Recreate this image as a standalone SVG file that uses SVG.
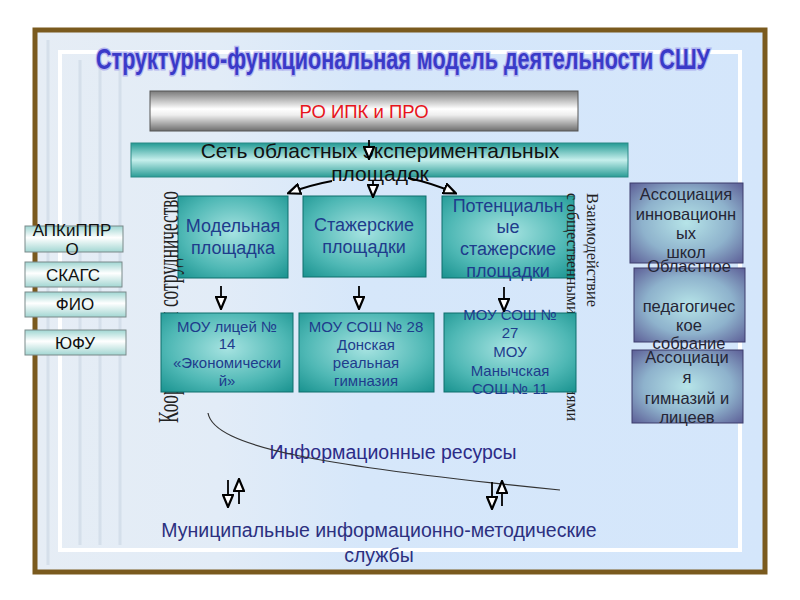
<svg xmlns="http://www.w3.org/2000/svg" width="800" height="600" viewBox="0 0 800 600">
<defs>
<linearGradient id="bg" x1="0" y1="0" x2="1" y2="0">
<stop offset="0" stop-color="#e6edf5"/>
<stop offset="0.25" stop-color="#e2ecf7"/>
<stop offset="0.45" stop-color="#d6e7fa"/>
<stop offset="1" stop-color="#d4e6fb"/>
</linearGradient>
<linearGradient id="metal" x1="0" y1="0" x2="0" y2="1">
<stop offset="0" stop-color="#7a7a7a"/>
<stop offset="0.45" stop-color="#ffffff"/>
<stop offset="0.6" stop-color="#eeeeee"/>
<stop offset="1" stop-color="#6e6e6e"/>
</linearGradient>
<linearGradient id="tealbar" x1="0" y1="0" x2="0" y2="1">
<stop offset="0" stop-color="#239a94"/>
<stop offset="0.5" stop-color="#c6efec"/>
<stop offset="1" stop-color="#2a9c96"/>
</linearGradient>
<radialGradient id="teal" cx="0.5" cy="0.45" r="0.75">
<stop offset="0" stop-color="#a6e3e1"/>
<stop offset="0.6" stop-color="#4fb8b5"/>
<stop offset="1" stop-color="#17918e"/>
</radialGradient>
<linearGradient id="pale" x1="0" y1="0" x2="0" y2="1">
<stop offset="0" stop-color="#9fd6d2"/>
<stop offset="0.45" stop-color="#ffffff"/>
<stop offset="1" stop-color="#a2d6d2"/>
</linearGradient>
<radialGradient id="purple" cx="0.5" cy="0.5" r="0.72">
<stop offset="0" stop-color="#b6e4e8"/>
<stop offset="0.55" stop-color="#8eb2cc"/>
<stop offset="1" stop-color="#5a5a94"/>
</radialGradient>
<marker id="ah" viewBox="-1 -1 14 12" refX="11" refY="5" markerWidth="14" markerHeight="12" orient="auto" markerUnits="userSpaceOnUse">
<path d="M0,0 L12,5 L0,10 Z" fill="#ffffff" stroke="#000" stroke-width="2.2" stroke-linejoin="miter"/>
</marker>
<style>
.t{font-family:"Liberation Sans",Arial,sans-serif}
.tb{fill:url(#teal);stroke:#0f6f6c;stroke-width:1}
.tbt{font-family:"Liberation Sans",Arial,sans-serif;font-size:18px;fill:#1e3c8c;text-anchor:middle}
.tbs{font-family:"Liberation Sans",Arial,sans-serif;font-size:15px;fill:#1e3c8c;text-anchor:middle}
.pb{fill:url(#pale);stroke:#7a8a8a;stroke-width:1}
.pbt{font-family:"Liberation Sans",Arial,sans-serif;font-size:17px;fill:#111;text-anchor:middle}
.rb{fill:url(#purple);stroke:#3c3c6c;stroke-width:1}
.rbt{font-family:"Liberation Sans",Arial,sans-serif;font-size:16.5px;fill:#252535;text-anchor:middle}
.ar{stroke:#000;stroke-width:1.8;fill:none;marker-end:url(#ah)}
.vt{font-family:"Liberation Serif","Times New Roman",serif;fill:#222}
</style>
</defs>

<rect x="0" y="0" width="800" height="600" fill="#ffffff"/>
<g id="frame">
<rect x="35" y="30" width="730" height="542" fill="url(#bg)" stroke="#7a5a1e" stroke-width="5"/>
<rect x="60" y="52" width="680" height="498" fill="none" stroke="#ffffff" stroke-width="4"/>
<g opacity="0.35" stroke="#b8c8d8" stroke-width="3">
<line x1="48" y1="40" x2="48" y2="565"/>
<line x1="80" y1="60" x2="80" y2="545"/>
<line x1="100" y1="60" x2="100" y2="545"/>
<line x1="120" y1="60" x2="120" y2="545"/>
</g>
</g>

<g id="title">
<text x="403" y="69" class="t" font-size="30" font-weight="bold" text-anchor="middle" textLength="614" lengthAdjust="spacingAndGlyphs" fill="none" stroke="#a8a8ee" stroke-width="3" opacity="0.8">Структурно-функциональная модель деятельности СШУ</text>
<text x="403" y="69" class="t" font-size="30" font-weight="bold" text-anchor="middle" textLength="614" lengthAdjust="spacingAndGlyphs" fill="#3a3ac8">Структурно-функциональная модель деятельности СШУ</text>
</g>

<g id="ro-ipk">
<rect x="150" y="91" width="428" height="40" fill="url(#metal)" stroke="#555" stroke-width="1"/>
<text x="364" y="118" class="t" font-size="18.5" fill="#e8141c" text-anchor="middle">РО ИПК и ПРО</text>
</g>

<g id="network">
<rect x="131" y="143" width="497" height="34" fill="url(#tealbar)" stroke="#2a8a86" stroke-width="1"/>
<text x="380" y="158" class="t" font-size="21" fill="#111" text-anchor="middle">Сеть областных экспериментальных</text>
<text x="380" y="181" class="t" font-size="21" fill="#111" text-anchor="middle">площадок</text>
</g>

<g id="model">
<rect x="178" y="196" width="110" height="82" class="tb"/>
<text class="tbt" x="233" y="232">Модельная</text>
<text class="tbt" x="233" y="254">площадка</text>
</g>
<g id="intern">
<rect x="303" y="196" width="123" height="81" class="tb"/>
<text class="tbt" x="364" y="231">Стажерские</text>
<text class="tbt" x="364" y="253">площадки</text>
</g>
<g id="potential">
<rect x="442" y="196" width="132" height="82" class="tb"/>
<text class="tbt" x="508" y="212">Потенциальн</text>
<text class="tbt" x="508" y="233">ые</text>
<text class="tbt" x="508" y="255">стажерские</text>
<text class="tbt" x="508" y="277">площадки</text>
</g>

<g id="coord-label">
<text class="vt" transform="translate(178,423) rotate(-90)" font-size="30" textLength="232" lengthAdjust="spacingAndGlyphs">Координация и сотрудничество</text>
</g>
<g id="interaction-label">
<text class="vt" transform="translate(587,193) rotate(90)" font-size="17" textLength="114" lengthAdjust="spacingAndGlyphs">Взаимодействие</text>
<text class="vt" transform="translate(567,193) rotate(90)" font-size="16" textLength="228" lengthAdjust="spacingAndGlyphs">с общественными организациями</text>
</g>

<g id="lyceum14">
<rect x="161" y="313" width="132" height="79" class="tb"/>
<text class="tbs" x="227" y="332">МОУ лицей №</text>
<text class="tbs" x="227" y="349">14</text>
<text class="tbs" x="227" y="368">«Экономически</text>
<text class="tbs" x="227" y="386">й»</text>
</g>
<g id="school28">
<rect x="299" y="313" width="135" height="79" class="tb"/>
<text class="tbs" x="366" y="332">МОУ СОШ № 28</text>
<text class="tbs" x="366" y="350">Донская</text>
<text class="tbs" x="366" y="368">реальная</text>
<text class="tbs" x="366" y="386">гимназия</text>
</g>
<g id="school27">
<rect x="444" y="313" width="132" height="79" class="tb"/>
<text class="tbs" x="510" y="320">МОУ СОШ №</text>
<text class="tbs" x="510" y="338">27</text>
<text class="tbs" x="510" y="357">МОУ</text>
<text class="tbs" x="510" y="376">Манычская</text>
<text class="tbs" x="510" y="394">СОШ № 11</text>
</g>

<g id="apkippro">
<rect x="25" y="226" width="98" height="26" class="pb"/>
<text class="pbt" x="72" y="236">АПКиППР</text>
<text class="pbt" x="72" y="255">О</text>
</g>
<g id="skags">
<rect x="25" y="262" width="97" height="25" class="pb"/>
<text class="pbt" x="73" y="281">СКАГС</text>
</g>
<g id="fio">
<rect x="25" y="292" width="101" height="25" class="pb"/>
<text class="pbt" x="75" y="310">ФИО</text>
</g>
<g id="yufu">
<rect x="25" y="330" width="101" height="25" class="pb"/>
<text class="pbt" x="75" y="349">ЮФУ</text>
</g>

<g id="assoc-innov">
<rect x="630" y="183" width="113" height="80" class="rb"/>
<text class="rbt" x="686" y="200">Ассоциация</text>
<text class="rbt" x="686" y="220">инновационн</text>
<text class="rbt" x="686" y="239">ых</text>
<text class="rbt" x="686" y="258">школ</text>
</g>
<g id="regional-assembly">
<rect x="634" y="268" width="111" height="74" class="rb"/>
<text class="rbt" x="689" y="272">Областное</text>
<text class="rbt" x="689" y="312">педагогичес</text>
<text class="rbt" x="689" y="331">кое</text>
<text class="rbt" x="689" y="349">собрание</text>
</g>
<g id="assoc-gym">
<rect x="632" y="350" width="111" height="73" class="rb"/>
<text class="rbt" x="687" y="363">Ассоциаци</text>
<text class="rbt" x="687" y="383">я</text>
<text class="rbt" x="687" y="404">гимназий и</text>
<text class="rbt" x="687" y="423">лицеев</text>
</g>

<g id="info-resources">
<text x="393" y="459" class="t" font-size="19.5" fill="#2c2c88" text-anchor="middle">Информационные ресурсы</text>
</g>
<g id="municipal">
<text x="379" y="537" class="t" font-size="19.5" fill="#2c3080" text-anchor="middle">Муниципальные информационно-методические</text>
<text x="379" y="562" class="t" font-size="19.5" fill="#2c3080" text-anchor="middle">службы</text>
</g>

<g id="connectors">
<line x1="369" y1="140" x2="369" y2="158" class="ar"/>
<path d="M332,181 Q310,185 289,193" class="ar"/>
<line x1="373" y1="180" x2="373" y2="196" class="ar"/>
<path d="M408,178 Q432,183 455,193" class="ar"/>
<line x1="221" y1="286" x2="221" y2="308" class="ar"/>
<line x1="359" y1="286" x2="359" y2="308" class="ar"/>
<line x1="504" y1="287" x2="504" y2="310" class="ar"/>
<path d="M208,413 C214,447 320,466 560,490" fill="none" stroke="#333" stroke-width="1.2"/>
<line x1="228" y1="480" x2="228" y2="506" class="ar"/>
<line x1="239" y1="504" x2="239" y2="480" class="ar"/>
<line x1="492" y1="482" x2="492" y2="508" class="ar"/>
<line x1="502" y1="506" x2="502" y2="482" class="ar"/>
</g>
</svg>
